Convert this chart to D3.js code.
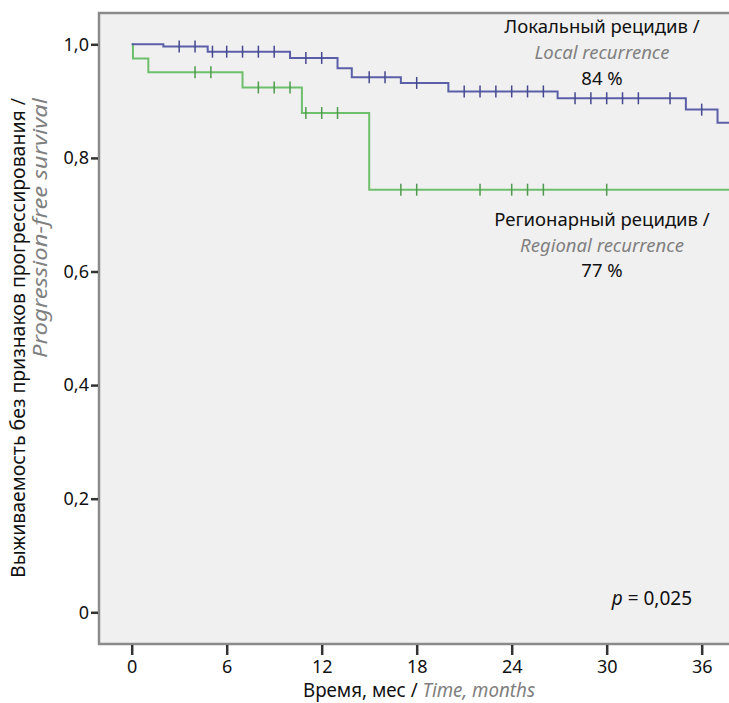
<!DOCTYPE html>
<html>
<head>
<meta charset="utf-8">
<script src="https://cdn.jsdelivr.net/npm/d3@7"></script>
<style>
  body { margin: 0; background: #fff; }
  svg { display: block; }
</style>
</head>
<body>
<svg id="chart" width="729" height="703"></svg>
<script>
// local recurrence (blue)
var localTimes = [0, 2, 4.8, 10, 13, 13.9, 17, 20, 26.9, 35, 37];
var localSurv = [1.0, 0.996, 0.987, 0.976, 0.958, 0.942, 0.932, 0.917, 0.905, 0.885, 0.862];
var localCensored = [3, 4, 5.1, 6, 7, 8, 9, 11, 12, 15, 16, 18, 21, 22, 23, 24, 25, 26, 28, 29, 30, 31, 32, 34, 36];

// regional recurrence (green)
var regionalTimes = [0, 0.08, 1.05, 7, 10.75, 15];
var regionalSurv = [1.0, 0.975, 0.951, 0.924, 0.879, 0.744];
var regionalCensored = [4, 5, 8, 9, 10, 11, 12, 13, 17, 18, 22, 24, 25, 26, 30];

var xTicks = [0, 6, 12, 18, 24, 30, 36];
var yTicks = [0, 0.2, 0.4, 0.6, 0.8, 1.0];
var lastTime = 38;

var font = "'Noto Sans', 'Open Sans', sans-serif";

var svg = d3.select("#chart"),
    width = +svg.attr("width"),
    height = +svg.attr("height");

var frame = {left: 99, top: 13, bottom: 644, right: width + 2};

var x = d3.scaleLinear().domain([0, 36]).range([131.7, 701.7]);
var y = d3.scaleLinear().domain([0, 1]).range([612.3, 44.3]);

// plot background
svg.append("rect")
  .attr("x", frame.left).attr("y", frame.top)
  .attr("width", frame.right - frame.left).attr("height", frame.bottom - frame.top)
  .attr("fill", "#f0f0f0")
  .attr("stroke", "#8a8a8a").attr("stroke-width", 2.5);

svg.append("clipPath").attr("id", "clip")
  .append("rect")
  .attr("x", frame.left).attr("y", frame.top)
  .attr("width", frame.right - frame.left).attr("height", frame.bottom - frame.top);

// axes
var yAxis = d3.axisLeft(y)
  .tickValues(yTicks)
  .tickSize(7)
  .tickPadding(2)
  .tickFormat(function(d){ return d === 0 ? "0" : d3.format(".1f")(d).replace(".", ","); });

var gy = svg.append("g")
  .attr("transform", "translate(" + (frame.left - 1) + ",0)")
  .call(yAxis);
gy.select(".domain").remove();
gy.selectAll("line").attr("stroke", "#333").attr("stroke-width", 2.5);
gy.selectAll("text").attr("font-family", font).attr("font-size", 18).attr("fill", "#111");

var xAxis = d3.axisBottom(x)
  .tickValues(xTicks)
  .tickSize(10)
  .tickPadding(5);

var gx = svg.append("g")
  .attr("transform", "translate(0," + (frame.bottom + 1) + ")")
  .call(xAxis);
gx.select(".domain").remove();
gx.selectAll("line").attr("stroke", "#333").attr("stroke-width", 2.5);
gx.selectAll("text").attr("font-family", font).attr("font-size", 18).attr("fill", "#111");

// axis titles (narrowed to mimic the condensed face of the original)
var xTitle = svg.append("text")
  .attr("x", 419).attr("y", 697)
  .attr("text-anchor", "middle")
  .attr("textLength", 232).attr("lengthAdjust", "spacingAndGlyphs")
  .attr("font-family", font).attr("font-size", 19).attr("fill", "#111");
xTitle.append("tspan").text("Время, мес / ");
xTitle.append("tspan").attr("font-style", "italic").attr("fill", "#808080").text("Time, months");

svg.append("text")
  .attr("transform", "translate(25,578) rotate(-90)")
  .attr("textLength", 480).attr("lengthAdjust", "spacingAndGlyphs")
  .attr("font-family", font).attr("font-size", 19).attr("fill", "#111")
  .text("Выживаемость без признаков прогрессирования /");

svg.append("text")
  .attr("transform", "translate(47,358) rotate(-90)")
  .attr("textLength", 260).attr("lengthAdjust", "spacingAndGlyphs")
  .attr("font-family", font).attr("font-size", 20).attr("font-style", "italic").attr("fill", "#808080")
  .text("Progression-free survival");

// curves
var line = d3.line()
  .x(function(d){ return x(d[0]); })
  .y(function(d){ return y(d[1]); })
  .curve(d3.curveStepAfter);

function survAt(times, surv, t) {
  var s = surv[0];
  for (var i = 0; i < times.length; i++) {
    if (times[i] <= t) s = surv[i];
  }
  return s;
}

function drawCurve(times, surv, censored, color, tickColor) {
  var pts = times.map(function(t, i){ return [t, surv[i]]; });
  pts.push([lastTime, surv[surv.length - 1]]);
  var g = svg.append("g").attr("clip-path", "url(#clip)");
  g.append("path")
    .datum(pts)
    .attr("d", line)
    .attr("fill", "none")
    .attr("stroke", color)
    .attr("stroke-width", 2);
  g.selectAll(".cens")
    .data(censored)
    .enter().append("line")
    .attr("x1", function(d){ return x(d); })
    .attr("x2", function(d){ return x(d); })
    .attr("y1", function(d){ return y(survAt(times, surv, d)) - 6; })
    .attr("y2", function(d){ return y(survAt(times, surv, d)) + 6; })
    .attr("stroke", tickColor)
    .attr("stroke-width", 1.5);
}

drawCurve(regionalTimes, regionalSurv, regionalCensored, "#6dbf6b", "#4f9a4e");
drawCurve(localTimes, localSurv, localCensored, "#5b5fa8", "#45488f");

// annotations
function label(cx, yBase, lines) {
  lines.forEach(function(l, i){
    svg.append("text")
      .attr("x", cx).attr("y", yBase[i])
      .attr("text-anchor", "middle")
      .attr("font-family", font).attr("font-size", 18.5)
      .attr("font-style", l.italic ? "italic" : "normal")
      .attr("fill", l.italic ? "#808080" : "#111")
      .text(l.text);
  });
}

label(602, [33, 58.5, 85], [
  {text: "Локальный рецидив /"},
  {text: "Local recurrence", italic: true},
  {text: "84 %"}
]);

label(602, [226, 251.5, 277], [
  {text: "Регионарный рецидив /"},
  {text: "Regional recurrence", italic: true},
  {text: "77 %"}
]);

var pText = svg.append("text")
  .attr("x", 692).attr("y", 605)
  .attr("text-anchor", "end")
  .attr("font-family", font).attr("font-size", 19).attr("fill", "#111");
pText.append("tspan").attr("font-style", "italic").text("p");
pText.append("tspan").text(" = 0,025");
</script>
</body>
</html>
